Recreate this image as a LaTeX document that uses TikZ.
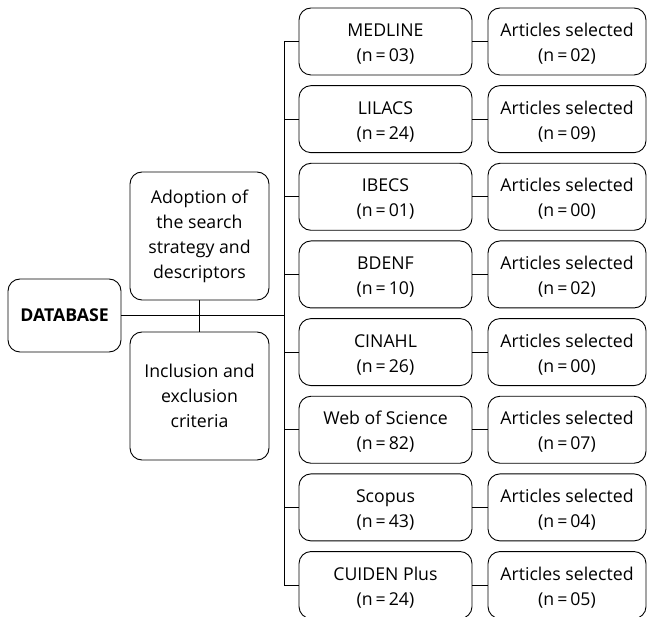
\documentclass[tikz,border=0pt]{standalone}
\usepackage{fontspec}
\setmainfont{Open Sans}
\begin{document}
\begin{tikzpicture}[x=1pt,y=-1pt,
  box/.style={draw,line width=0.9pt,rounded corners=12pt,align=center,inner sep=0pt,
    font=\fontsize{17.7}{25}\selectfont},
  twoline/.style={box,text height=44.8pt,text depth=4.5pt},
  dbbox/.style={twoline,minimum width=173pt,minimum height=67pt},
  artbox/.style={twoline,minimum width=158pt,minimum height=67pt},
  line/.style={line width=0.9pt}]
\useasboundingbox (0,0) rectangle (648,617);
\node[box,minimum width=113pt,minimum height=73pt,font=\fontsize{17.7}{25}\selectfont\bfseries] (db) at (64.5,315.5) {DATABASE};
\node[box,minimum width=139pt,minimum height=128pt] (adopt) at (199.5,236) {Adoption of\\the search\\strategy and\\descriptors};
\node[box,minimum width=139pt,minimum height=128pt] (incl) at (199.5,396) {Inclusion and\\exclusion\\criteria};
\foreach \name/\n/\a [count=\i from 0] in {MEDLINE/03/02, LILACS/24/09, IBECS/01/00, BDENF/10/02, CINAHL/26/00, Web of Science/82/07, Scopus/43/04, CUIDEN Plus/24/05}{
  \node[dbbox] (d\i) at (385.5,{41.5+77.65*\i}) {\name\\(n\,=\,\n)};
  \node[artbox] (a\i) at (567,{41.5+77.65*\i}) {Articles selected\\(n\,=\,\a)};
  \draw[line] (d\i) -- (a\i);
}
\coordinate (bt) at (284,41.5);
\coordinate (bb) at (284,585);
\draw[line] (bt) -- (bb);
\foreach \i in {0,...,7}{
  \draw[line] (d\i.west) -- (d\i.west -| bt);
}
\draw[line] (db.east) -- (db.east -| bt);
\draw[line] (adopt) -- (incl);
\end{tikzpicture}
\end{document}
